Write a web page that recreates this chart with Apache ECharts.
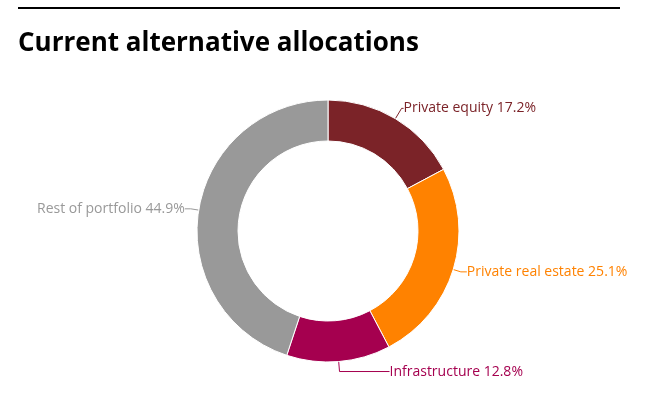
<!DOCTYPE html>
<html><head><meta charset="utf-8">
<script src="https://cdn.jsdelivr.net/npm/echarts@6/dist/echarts.min.js"></script>
<style>html,body{margin:0;padding:0;background:#fff}#c{width:651px;height:401px}</style>
</head><body><div id="c"></div>
<script>
var categories = ['Private equity', 'Private real estate', 'Infrastructure', 'Rest of portfolio'];
var values = [17.2, 25.1, 12.8, 44.9];
var colors = ['#7B2328', '#FF8200', '#A5004F', '#999999'];
var lineLen = [[12, 2], [8, 6], [10, 50], [8, 6]];

var chart = echarts.init(document.getElementById('c'));
chart.setOption({
  animation: false,
  graphic: [
    { type: 'line', shape: { x1: 18, y1: 8, x2: 620, y2: 8 }, style: { stroke: '#000', lineWidth: 2 } },
    { type: 'text', left: 18, top: 31, style: { text: 'Current alternative allocations', font: 'bold 26px "Open Sans"', fill: '#000' } }
  ],
  series: [{
    type: 'pie',
    center: [328, 231],
    radius: [90, 131],
    startAngle: 90,
    itemStyle: { borderColor: '#fff', borderWidth: 1 },
    label: {
      formatter: function (p) { return p.name + ' ' + p.value.toFixed(1) + '%'; },
      fontFamily: 'Open Sans', fontSize: 14,
      distanceToLabelLine: 0
    },
    labelLine: { length: 8, length2: 6, lineStyle: { width: 1 } },
    data: categories.map(function (n, i) {
      return { name: n, value: values[i], itemStyle: { color: colors[i] },
               label: { color: colors[i] },
               labelLine: { length: lineLen[i][0], length2: lineLen[i][1] } };
    })
  }]
});
</script></body></html>
